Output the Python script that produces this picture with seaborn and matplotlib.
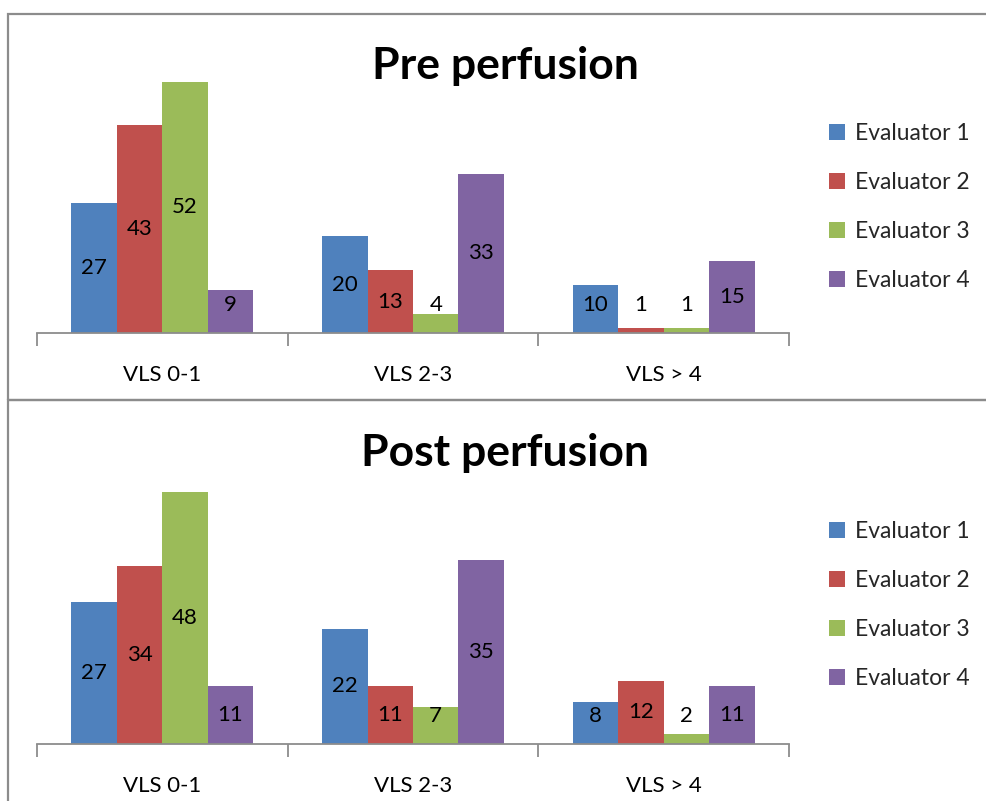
import matplotlib
matplotlib.use("Agg")
import matplotlib.pyplot as plt
import seaborn as sns
import pandas as pd
from matplotlib.patches import Rectangle

categories = ["VLS 0-1", "VLS 2-3", "VLS > 4"]
evaluators = ["Evaluator 1", "Evaluator 2", "Evaluator 3", "Evaluator 4"]
pre_values = {
    "Evaluator 1": [27, 20, 10],
    "Evaluator 2": [43, 13, 1],
    "Evaluator 3": [52, 4, 1],
    "Evaluator 4": [9, 33, 15],
}
post_values = {
    "Evaluator 1": [27, 22, 8],
    "Evaluator 2": [34, 11, 12],
    "Evaluator 3": [48, 7, 2],
    "Evaluator 4": [11, 35, 11],
}
titles = ["Pre perfusion", "Post perfusion"]
colors = ["#4F81BD", "#C0504D", "#9BBB59", "#8064A2"]

sns.set_theme(style="white")
plt.rcParams["font.family"] = ["Lato", "DejaVu Sans"]

W, H = 987, 801
fig = plt.figure(figsize=(W / 100, H / 100), dpi=100)

# panel frames
frame_col = "#8C8C8C"
fig.add_artist(Rectangle((8 / W, 1 - 400 / H), 1.2, (400 - 14) / H, transform=fig.transFigure,
                         fill=False, edgecolor=frame_col, linewidth=1.6))
fig.add_artist(Rectangle((8 / W, -0.1), 1.2, 0.1 + 1 - 400 / H, transform=fig.transFigure,
                         fill=False, edgecolor=frame_col, linewidth=1.6))

panels = [
    # (data, axis y px, ymax, label min, title y px, legend center y px)
    (pre_values, 333, 56.0, 5.8, 66, 207),
    (post_values, 744, 52.0, 5.4, 453, 605),
]
px_per_unit = [4.83, 5.25]

for i, (vals, axis_y, ymax, lab_min, title_y, leg_y) in enumerate(panels):
    rows = []
    for ev in evaluators:
        for c, v in zip(categories, vals[ev]):
            rows.append({"cat": c, "ev": ev, "val": v})
    df = pd.DataFrame(rows)
    h_px = ymax * px_per_unit[i]
    ax = fig.add_axes([37 / W, 1 - axis_y / H, (789 - 37) / W, h_px / H])
    sns.barplot(data=df, x="cat", y="val", hue="ev", hue_order=evaluators,
                order=categories, palette=colors, width=0.725, saturation=1,
                ax=ax, legend=True, edgecolor="none")
    ax.set_xlim(-0.5, 2.5)
    ax.set_ylim(0, ymax)
    ax.set_xlabel("")
    ax.set_ylabel("")
    ax.set_yticks([])
    for s in ["top", "right", "left"]:
        ax.spines[s].set_visible(False)
    ax.spines["bottom"].set_color("#8C8C8C")
    ax.spines["bottom"].set_linewidth(1.3)
    ax.set_xticks(range(len(categories)))
    ax.set_xticklabels(categories, fontsize=16, color="black")
    ax.tick_params(axis="x", which="major", length=0, pad=23)
    ax.set_xticks([-0.5, 0.5, 1.5, 2.5], minor=True)
    ax.tick_params(axis="x", which="minor", bottom=True, length=9, width=1.3,
                   color="#8C8C8C", direction="out")
    for cont in ax.containers:
        for bar in cont:
            v = bar.get_height()
            x = bar.get_x() + bar.get_width() / 2
            y = max(v / 2, lab_min)
            ax.text(x, y, f"{int(v)}", ha="center", va="center", fontsize=16, color="black")
    ax.legend(loc="center left", bbox_to_anchor=(829 / W, 1 - leg_y / H),
              bbox_transform=fig.transFigure, frameon=False, fontsize=16.5,
              borderaxespad=0, borderpad=0,
              handlelength=0.7, handleheight=0.7, handletextpad=0.45,
              labelspacing=1.22)
    fig.text(505 / W, 1 - title_y / H, titles[i], ha="center", va="center",
             fontsize=32, fontweight="bold", color="black")

fig.savefig("out.png", dpi=100)
